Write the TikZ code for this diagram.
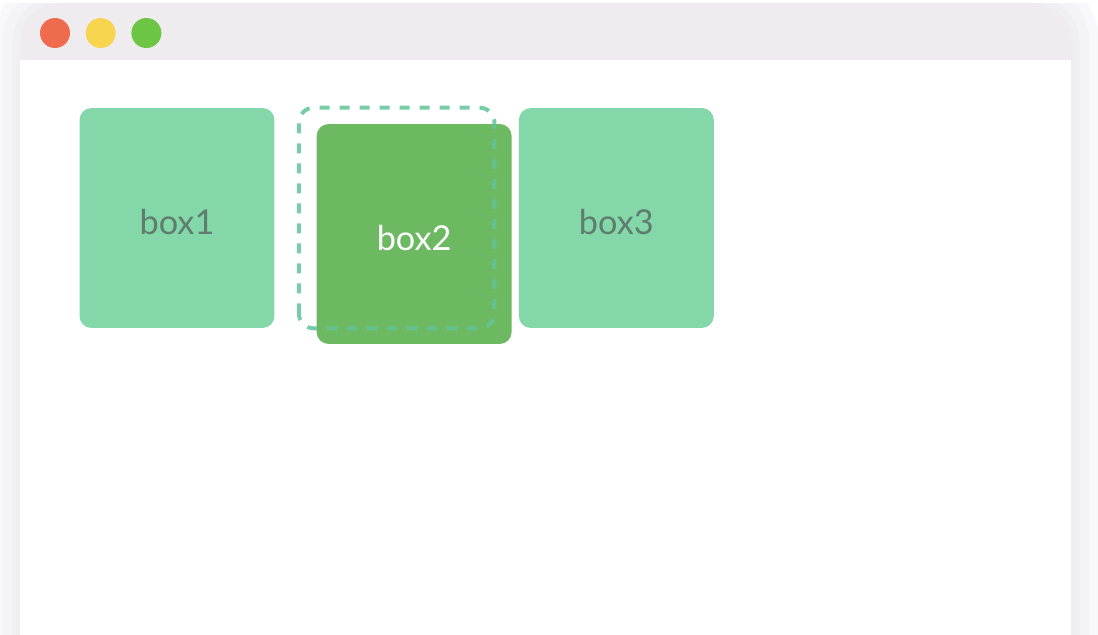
\documentclass[tikz,border=0pt]{standalone}
\usepackage{fontspec}
\setsansfont{Lato}
\usetikzlibrary{positioning}
\definecolor{framegray}{HTML}{EEECEF}
\definecolor{shadowgray}{HTML}{F8F7F9}
\definecolor{shadowgrayb}{HTML}{F4F3F6}
\definecolor{shadowgrayc}{HTML}{F0EFF2}
\definecolor{lightred}{HTML}{EE6B4D}
\definecolor{lightyellow}{HTML}{F8D54E}
\definecolor{lightgreen}{HTML}{6CC644}
\definecolor{mint}{HTML}{83D7A9}
\definecolor{leaf}{HTML}{6CB962}
\definecolor{ghostline}{HTML}{62C49A}
\definecolor{boxtext}{HTML}{5E7D6D}

\begin{document}
\begin{tikzpicture}[x=0.02cm,y=-0.02cm,
	light/.style={circle,minimum size=0.6cm,inner sep=0pt},
	boxnode/.style={minimum width=3.9cm,minimum height=4.4cm,rounded corners=0.24cm,inner sep=0pt,text height=0.66cm,font=\sffamily\fontsize{19.5}{21}\selectfont},
	ghostbox/.style={draw=ghostline,draw opacity=0.85,line width=0.08cm,dash pattern=on 0.2cm off 0.2cm,rounded corners=0.3cm}]
	\useasboundingbox (0,0) rectangle (1098,635);
	\fill[white] (0,0) rectangle (1098,635);
	% window frame
	\draw[shadowgray,line width=1.1cm,rounded corners=0.8cm] (20,660) -- (20,3) -- (1072,3) -- (1072,660);
	\draw[shadowgrayb,line width=0.7cm,rounded corners=0.8cm] (20,660) -- (20,3) -- (1072,3) -- (1072,660);
	\draw[shadowgrayc,line width=0.3cm,rounded corners=0.8cm] (20,660) -- (20,3) -- (1072,3) -- (1072,660);
	\fill[white] (0,0) rectangle (1098,3);
	\fill[framegray,rounded corners=0.8cm] (20,660) -- (20,3) -- (1072,3) -- (1072,660);
	\fill[white] (20,60) rectangle (1071,640);
	\node[light,fill=lightred] (red) at (55,33) {};
	\node[light,fill=lightyellow,right=0.3cm of red] (yellow) {};
	\node[light,fill=lightgreen,right=0.3cm of yellow] (green) {};
	% boxes
	\node[boxnode,fill=mint,text=boxtext] (box1) at (177,218) {box1};
	\node[boxnode,right=0.48cm of box1] (ghost) {};
	\node[boxnode,right=0.48cm of ghost,fill=mint,text=boxtext] (box3) {box3};
	\node[boxnode,fill=leaf,text=white] (box2) at ([xshift=0.35cm,yshift=-0.32cm]ghost) {box2};
	\draw[ghostbox] (ghost.south west) rectangle (ghost.north east);
\end{tikzpicture}
\end{document}
